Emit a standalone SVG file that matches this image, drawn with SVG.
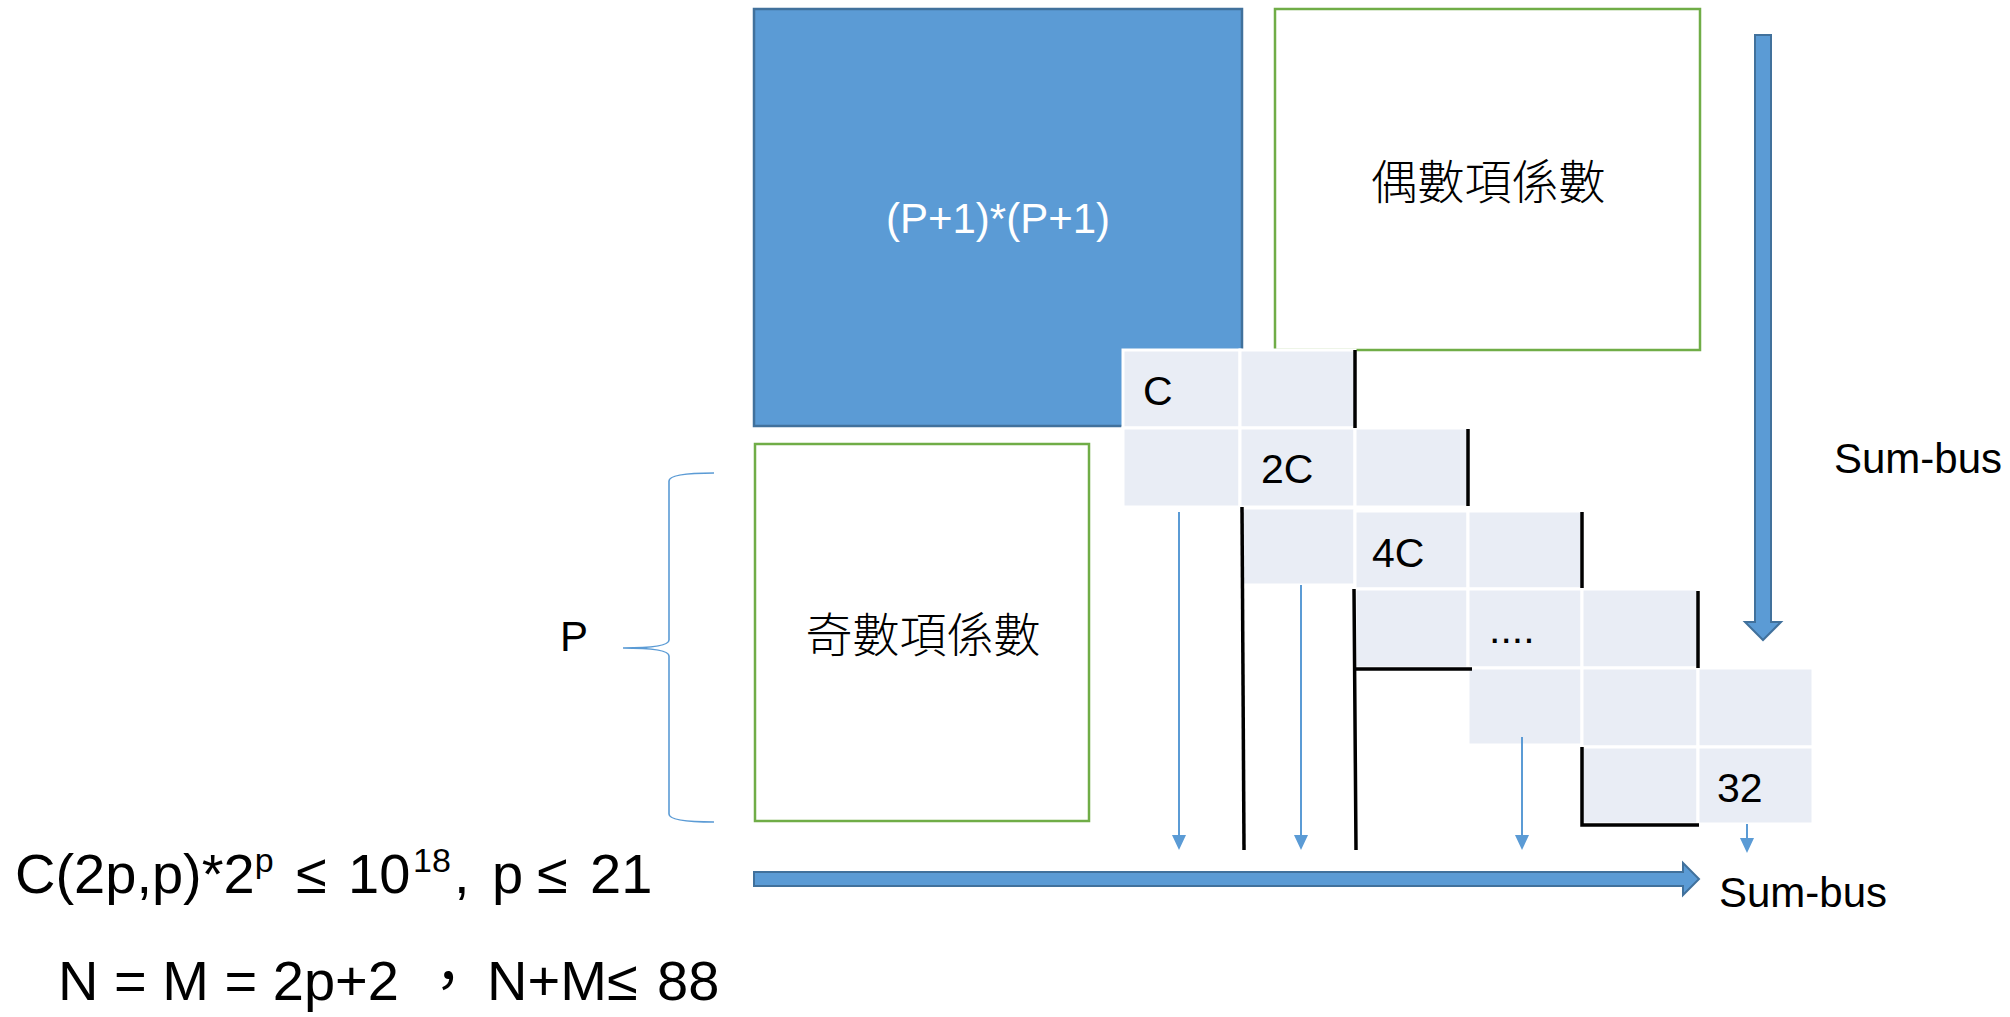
<svg xmlns="http://www.w3.org/2000/svg" width="2010" height="1017" viewBox="0 0 2010 1017">
<style>
text{font-family:"Liberation Sans","Noto Sans CJK TC",sans-serif;fill:#000}
.cjk{font-family:"Noto Sans CJK TC","Noto Sans CJK SC",sans-serif;font-size:47px;font-weight:300}
.cell{fill:#e9edf5;stroke:#fff;stroke-width:3}
.lbl{font-size:41px}
.bus{font-size:42px}
.blk{stroke:#000;stroke-width:3.5;fill:none}
.thin{stroke:#5b9bd5;stroke-width:2;fill:none;marker-end:url(#ah)}
.big{fill:#5b9bd5;stroke:#41719c;stroke-width:2}
.green{fill:#fff;stroke:#70ad47;stroke-width:2.5}
.f{font-size:56px}
.sup{font-size:34px}
</style>
<defs>
<marker id="ah" viewBox="0 0 15 14" refX="13" refY="7" markerWidth="15" markerHeight="14" markerUnits="userSpaceOnUse" orient="auto">
<path d="M0,0 L15,7 L0,14 z" fill="#5b9bd5"/>
</marker>
</defs>
<rect width="2010" height="1017" fill="#fff"/>

<g id="pp-block">
<rect x="754" y="9" width="488" height="417" fill="#5b9bd5" stroke="#41719c" stroke-width="2.5"/>
<text x="998" y="233" font-size="42" text-anchor="middle" style="fill:#fff">(P+1)*(P+1)</text>
</g>

<g id="even-coef">
<rect class="green" x="1275" y="9" width="425" height="341"/>
<text class="cjk" x="1488" y="199" text-anchor="middle">偶數項係數</text>
</g>

<g id="odd-coef">
<rect class="green" x="755" y="444" width="334" height="377"/>
<text class="cjk" x="923" y="652" text-anchor="middle">奇數項係數</text>
</g>

<g id="p-brace">
<path d="M714,473 C688,473 669,475 669,481 L669,640 C669,646 650,648 623,648 C650,648 669,650 669,656 L669,814 C669,820 688,822 714,822" fill="none" stroke="#5b9bd5" stroke-width="1.6"/>
<text x="560" y="651" font-size="42">P</text>
</g>

<g id="cells">
<rect class="cell" x="1123" y="350" width="117" height="78"/>
<rect class="cell" x="1240" y="350" width="115" height="78"/>
<rect class="cell" x="1123" y="428" width="117" height="79"/>
<rect class="cell" x="1240" y="428" width="115" height="79"/>
<rect class="cell" x="1355" y="428" width="113" height="79"/>
<rect class="cell" x="1240" y="508" width="115" height="77"/>
<rect class="cell" x="1355" y="511" width="113" height="78"/>
<rect class="cell" x="1468" y="511" width="114" height="78"/>
<rect class="cell" x="1355" y="589" width="113" height="79"/>
<rect class="cell" x="1468" y="589" width="114" height="79"/>
<rect class="cell" x="1582" y="589" width="116" height="79"/>
<rect class="cell" x="1468" y="668" width="114" height="77"/>
<rect class="cell" x="1582" y="668" width="116" height="79"/>
<rect class="cell" x="1698" y="668" width="115" height="79"/>
<rect class="cell" x="1582" y="747" width="116" height="77"/>
<rect class="cell" x="1698" y="747" width="115" height="77"/>
<text class="lbl" x="1143" y="405">C</text>
<text class="lbl" x="1261" y="483">2C</text>
<text class="lbl" x="1372" y="567">4C</text>
<text class="lbl" x="1489" y="643">....</text>
<text class="lbl" x="1717" y="802">32</text>
</g>

<g id="connectors">
<line class="blk" x1="1355" y1="350" x2="1355" y2="428"/>
<line class="blk" x1="1468" y1="429" x2="1468" y2="506"/>
<line class="blk" x1="1582" y1="512" x2="1582" y2="588"/>
<line class="blk" x1="1698" y1="591" x2="1698" y2="668"/>
<line class="blk" x1="1242" y1="507" x2="1244" y2="850"/>
<path class="blk" d="M1472,669 L1355,669 M1354,589 L1356,850"/>
<path class="blk" d="M1582,747 L1582,825 L1699,825"/>
<line class="thin" x1="1179" y1="512" x2="1179" y2="848"/>
<line class="thin" x1="1301" y1="585" x2="1301" y2="848"/>
<line class="thin" x1="1522" y1="737" x2="1522" y2="848"/>
<line class="thin" x1="1747" y1="824" x2="1747" y2="851"/>
<polygon class="big" points="1755,35 1771,35 1771,622 1781,622 1763,640 1745,622 1755,622"/>
<polygon class="big" points="754,872 1683,872 1683,863 1699,879 1683,895 1683,886 754,886"/>
</g>

<g id="sum-bus-labels">
<text class="bus" x="1834" y="473">Sum-bus</text>
<text class="bus" x="1719" y="907">Sum-bus</text>
</g>

<g id="formulas">
<text class="f" x="15" y="893">C(2p,p)*2<tspan class="sup" dy="-21">p</tspan><tspan x="296" dy="21">≤</tspan><tspan x="348">10</tspan><tspan class="sup" x="413" dy="-21">18</tspan><tspan x="454" dy="21">,</tspan><tspan x="492">p</tspan><tspan x="537">≤</tspan><tspan x="590">21</tspan></text>
<text class="f" x="58" y="1000">N = M = 2p+2<tspan x="420" style="font-family:'Noto Sans CJK TC',sans-serif">，</tspan><tspan x="487">N+M</tspan><tspan x="607">≤</tspan><tspan x="657">88</tspan></text>
</g>
</svg>
